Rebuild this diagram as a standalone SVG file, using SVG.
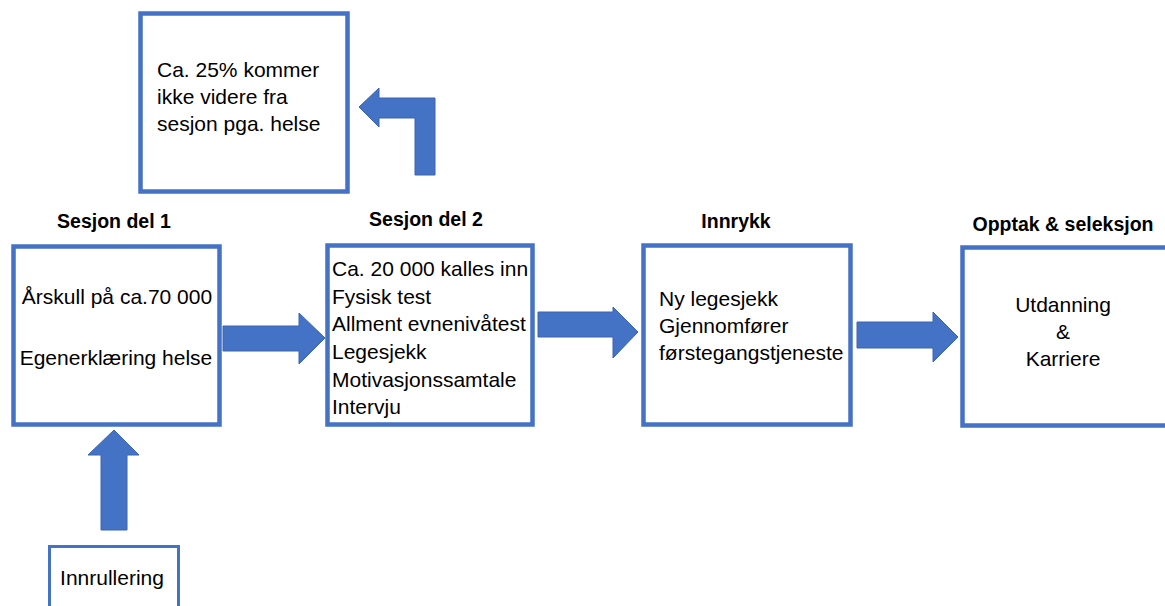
<svg xmlns="http://www.w3.org/2000/svg" width="1165" height="606" viewBox="0 0 1165 606">
<style>
.box{fill:#fff;stroke:#4472C4;stroke-width:4.5}
.thin{fill:#fff;stroke:#4472C4;stroke-width:3}
.arr{fill:#4472C4;stroke:#3A64B0;stroke-width:1}
.t{font-family:"Liberation Sans",Arial,sans-serif;font-size:21px;fill:#000}
.h{font-family:"Liberation Sans",Arial,sans-serif;font-size:19.5px;font-weight:bold;fill:#000;text-anchor:middle}
.c{text-anchor:middle}
</style>
<rect width="1165" height="606" fill="#fff"/>
<g id="connectors">
<polygon class="arr" points="359,107 379,88 379,98 435,98 435,175 415,175 415,118 379,118 379,127"/>
<polygon class="arr" points="223,326 299,326 299,313 325,338 299,364 299,351 223,351"/>
<polygon class="arr" points="538,312 613,312 613,307 638,332 613,358 613,337 538,337"/>
<polygon class="arr" points="857,322 933,322 933,312 958,337 933,362 933,348 857,348"/>
<polygon class="arr" points="114,430 139,455 127,455 127,530 101,530 101,455 88,455"/>
</g>
<g id="node-health">
<rect class="box" x="140.5" y="13.5" width="207" height="178"/>
<text class="t" x="157" y="77">Ca. 25% kommer</text>
<text class="t" x="157" y="104">ikke videre fra</text>
<text class="t" x="157" y="131">sesjon pga. helse</text>
</g>
<g id="node-sesjon1">
<text class="h" x="114" y="228">Sesjon del 1</text>
<rect class="box" x="13.5" y="246.5" width="206" height="178"/>
<text class="t c" x="117" y="304">Årskull på ca.70 000</text>
<text class="t c" x="116" y="365">Egenerklæring helse</text>
</g>
<g id="node-sesjon2">
<text class="h" x="426" y="226">Sesjon del 2</text>
<rect class="box" x="327.5" y="245.5" width="205" height="179"/>
<text class="t" x="332" y="276">Ca. 20 000 kalles inn</text>
<text class="t" x="332" y="303.5">Fysisk test</text>
<text class="t" x="332" y="331">Allment evnenivåtest</text>
<text class="t" x="332" y="359">Legesjekk</text>
<text class="t" x="332" y="386.5">Motivasjonssamtale</text>
<text class="t" x="332" y="414">Intervju</text>
</g>
<g id="node-innrykk">
<text class="h" x="736" y="228">Innrykk</text>
<rect class="box" x="643.5" y="245.5" width="207" height="179"/>
<text class="t" x="659" y="306">Ny legesjekk</text>
<text class="t" x="659" y="333">Gjennomfører</text>
<text class="t" x="659" y="360">førstegangstjeneste</text>
</g>
<g id="node-opptak">
<text class="h" x="1063" y="231">Opptak &amp; seleksjon</text>
<rect class="box" x="962.5" y="247.5" width="230" height="178"/>
<text class="t c" x="1063" y="312">Utdanning</text>
<text class="t c" x="1063" y="339">&amp;</text>
<text class="t c" x="1063" y="366">Karriere</text>
</g>
<g id="node-innrullering">
<rect class="thin" x="49.5" y="546.5" width="129" height="80"/>
<text class="t c" x="112" y="585">Innrullering</text>
</g>
</svg>
